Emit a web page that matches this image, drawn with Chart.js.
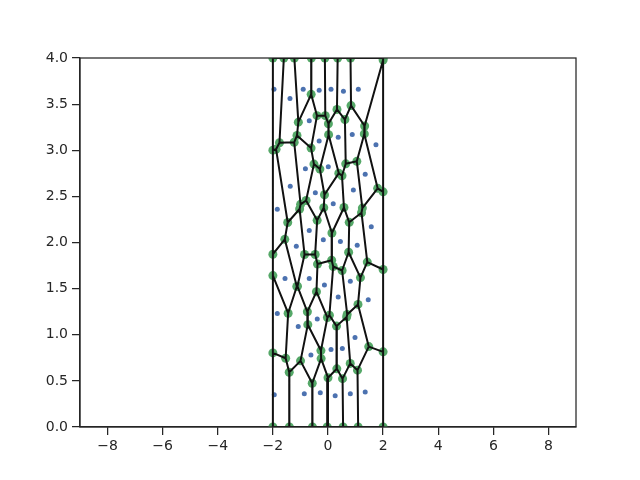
<!DOCTYPE html>
<html>
<head>
<meta charset="utf-8">
<script src="https://cdn.jsdelivr.net/npm/chart.js@4.4.0/dist/chart.umd.min.js"></script>
<style>
    html, body { margin: 0; padding: 0; background: #fff; }
    #wrap { width: 640px; height: 480px; }
</style>
</head>
<body>
<div id="wrap"><canvas id="chart" width="640" height="480"></canvas></div>
<script>
// seed points (blue)
var seedX = [-1.96, -1.38, -0.90, -0.32, 0.11, 0.56, 1.10,
             -0.68, -0.32, 0.37, 0.88, 1.74,
             -0.82, 0.01, 1.35, -1.37, -0.46, 0.92, 0.19,
             -1.84, -0.68, 1.57, -1.15, -0.17, 0.45, 1.06,
             -1.56, -0.68, 0.81, -0.13, 0.37, 1.46,
             -1.84, -0.39, -1.08, 0.98, 0.11, 0.52, -0.62,
             -1.95, -0.86, -0.28, 0.26, 0.81, 1.35];
var seedY = [3.66, 3.56, 3.66, 3.65, 3.66, 3.64, 3.66,
             3.32, 3.10, 3.14, 3.17, 3.06,
             2.80, 2.82, 2.74, 2.61, 2.54, 2.57, 2.42,
             2.36, 2.13, 2.17, 1.96, 2.03, 2.01, 1.97,
             1.61, 1.61, 1.58, 1.54, 1.41, 1.38,
             1.23, 1.17, 1.09, 0.97, 0.84, 0.85, 0.78,
             0.35, 0.36, 0.37, 0.34, 0.36, 0.38];

// bounding box of the diagram: xmin, xmax, ymin, ymax
var box = [-2, 2, 0, 4];

var xTicks = [-8, -6, -4, -2, 0, 2, 4, 6, 8];
var yTicks = [0, 0.5, 1, 1.5, 2, 2.5, 3, 3.5, 4];

// clip polygon with half plane a*x + b*y <= c
function clip(poly, a, b, c) {
    var out = [];
    for (var i = 0; i < poly.length; i++) {
        var p = poly[i], q = poly[(i + 1) % poly.length];
        var fp = a * p[0] + b * p[1] - c;
        var fq = a * q[0] + b * q[1] - c;
        if (fp <= 0) out.push(p);
        if ((fp < 0 && fq > 0) || (fp > 0 && fq < 0)) {
            var t = fp / (fp - fq);
            out.push([p[0] + t * (q[0] - p[0]), p[1] + t * (q[1] - p[1])]);
        }
    }
    return out;
}

// bounded voronoi cells
var cells = seedX.map(function (xi, i) {
    var yi = seedY[i];
    var poly = [[box[0], box[2]], [box[1], box[2]], [box[1], box[3]], [box[0], box[3]]];
    seedX.forEach(function (xj, j) {
        if (j === i || poly.length === 0) return;
        var yj = seedY[j];
        poly = clip(poly, 2 * (xj - xi), 2 * (yj - yi), xj * xj + yj * yj - xi * xi - yi * yi);
    });
    return poly;
});

var edgeData = [];
var vertexData = [];
var seen = {};
cells.forEach(function (poly) {
    for (var k = 0; k < poly.length; k++) {
        var p = poly[k], q = poly[(k + 1) % poly.length];
        var key = p[0].toFixed(4) + "," + p[1].toFixed(4);
        if (!seen[key]) {
            seen[key] = true;
            vertexData.push({ x: p[0], y: p[1] });
        }
        if (Math.abs(p[0] - q[0]) + Math.abs(p[1] - q[1]) < 1e-9) continue;
        edgeData.push({ x: p[0], y: p[1] }, { x: q[0], y: q[1] }, { x: NaN, y: NaN });
    }
});

var seedData = seedX.map(function (x, i) {
    return { x: x, y: seedY[i] };
});

var ink = "#262626";
var tickFont = { family: "DejaVu Sans", size: 14 };

var frame = {
    id: "frame",
    afterDraw: function (chart) {
        var a = chart.chartArea, ctx = chart.ctx;
        ctx.save();
        ctx.strokeStyle = ink;
        ctx.lineWidth = 1.25;
        ctx.strokeRect(a.left, a.top, a.right - a.left, a.bottom - a.top);
        ctx.restore();
    },
};

new Chart("chart", {
    type: "scatter",
    data: {
        datasets: [
            {
                data: edgeData,
                showLine: true,
                borderColor: "#111111",
                borderWidth: 2,
                pointRadius: 0,
                spanGaps: false,
                order: 0,
            },
            {
                data: vertexData,
                backgroundColor: "#55A868",
                borderWidth: 0,
                pointRadius: 4.5,
                order: 1,
            },
            {
                data: seedData,
                backgroundColor: "#4C72B0",
                borderWidth: 0,
                pointRadius: 2.5,
                order: 2,
            },
        ],
    },
    options: {
        responsive: false,
        animation: false,
        events: [],
        layout: { padding: { left: 0, right: 64, top: 58, bottom: 0 } },
        plugins: { legend: { display: false }, tooltip: { enabled: false } },
        scales: {
            x: {
                type: "linear",
                min: -9,
                max: 9,
                afterBuildTicks: function (scale) {
                    scale.ticks = xTicks.map(function (v) { return { value: v }; });
                },
                afterFit: function (scale) { scale.height = 53; },
                ticks: {
                    font: tickFont,
                    color: ink,
                    padding: 3,
                    maxRotation: 0,
                    callback: function (v) {
                        return v < 0 ? "\u2212" + Math.abs(v) : String(v);
                    },
                },
                grid: { drawOnChartArea: false, tickLength: 8, color: ink, lineWidth: 1.25 },
                border: { display: true, color: ink, width: 1.25 },
            },
            y: {
                type: "linear",
                min: 0,
                max: 4,
                afterBuildTicks: function (scale) {
                    scale.ticks = yTicks.map(function (v) { return { value: v }; });
                },
                afterFit: function (scale) { scale.width = 80; },
                ticks: {
                    font: tickFont,
                    color: ink,
                    padding: 4,
                    callback: function (v) { return v.toFixed(1); },
                },
                grid: { drawOnChartArea: false, tickLength: 8, color: ink, lineWidth: 1.25 },
                border: { display: true, color: ink, width: 1.25 },
            },
        },
    },
    plugins: [frame],
});
</script>
</body>
</html>
